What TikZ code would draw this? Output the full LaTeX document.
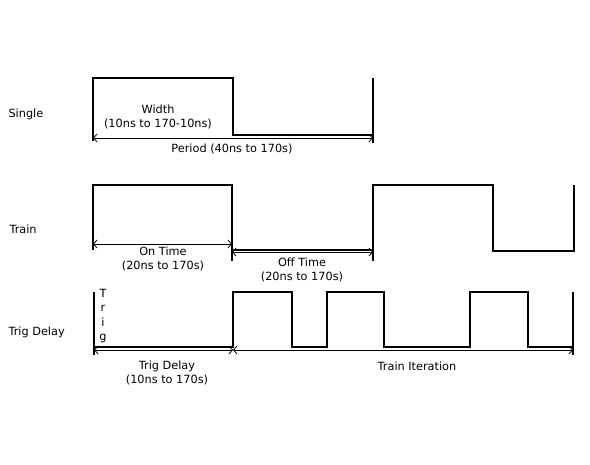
\documentclass[tikz,border=0pt]{standalone}
\usepackage{fontspec}
\setmainfont{DejaVu Sans}
\usetikzlibrary{arrows.meta}
\tikzset{
  sig/.style={line width=1.6pt, line join=miter},
  dim/.style={{Straight Barb[length=3.5pt,width=8pt]}-{Straight Barb[length=3.5pt,width=8pt]}, line width=0.8pt},
  lbl/.style={anchor=west},
  txt/.style={align=center, inner sep=0pt}
}
\begin{document}
\begin{tikzpicture}[x=1pt, y=-1pt, font=\fontsize{11.3}{14.5}\selectfont]
  \useasboundingbox (0,0) rectangle (590,465);

  % Single
  \node[lbl] (single) at (5,114) {Single};
  \draw[sig] (93,141) -- (93,78) -- (233,78) -- (233,135) -- (373,135);
  \draw[sig] (373,78) -- (373,143);
  \coordinate (sa) at (93,138);
  \coordinate (sb) at (373,138);
  \draw[dim] (sa) -- (sb);
  \node[txt] (width) at (158,117) {Width\\(10ns to 170-10ns)};
  \node[txt] (period) at (232,149) {Period (40ns to 170s)};

  % Train
  \node[lbl] (train) at (6,229) {Train};
  \draw[sig] (93,250) -- (93,185) -- (232,185) -- (232,261);
  \draw[sig] (232,250) -- (373,250);
  \draw[sig] (373,261) -- (373,185) -- (493,185) -- (493,251) -- (574,251) -- (574,185);
  \coordinate (ta) at (93,244);
  \coordinate (tb) at (232,244);
  \coordinate (tc) at (232,252);
  \coordinate (td) at (373,252);
  \draw[dim] (ta) -- (tb);
  \draw[dim] (tc) -- (td);
  \node[txt] (ontime) at (163,259) {On Time\\(20ns to 170s)};
  \node[txt] (offtime) at (302,270) {Off Time\\(20ns to 170s)};

  % Trig Delay
  \node[lbl] (trigdelay) at (5,332) {Trig Delay};
  \draw[sig] (94,292) -- (94,355);
  \draw[sig] (94,347) -- (233,347) -- (233,292) -- (292,292) -- (292,347) -- (327,347)
    -- (327,292) -- (384,292) -- (384,347) -- (470,347) -- (470,292) -- (528,292)
    -- (528,347) -- (573,347);
  \draw[sig] (573,292) -- (573,355);
  \node[txt] (trigword) at (103,316) {T\\r\\i\\g};
  \coordinate (da) at (94,350);
  \coordinate (db) at (233,350);
  \coordinate (dc) at (573,350);
  \draw[dim] (da) -- (db);
  \draw[dim] (db) -- (dc);
  \node[txt] (delay) at (167,373) {Trig Delay\\(10ns to 170s)};
  \node[txt] (iter) at (417,366) {Train Iteration};
\end{tikzpicture}
\end{document}
